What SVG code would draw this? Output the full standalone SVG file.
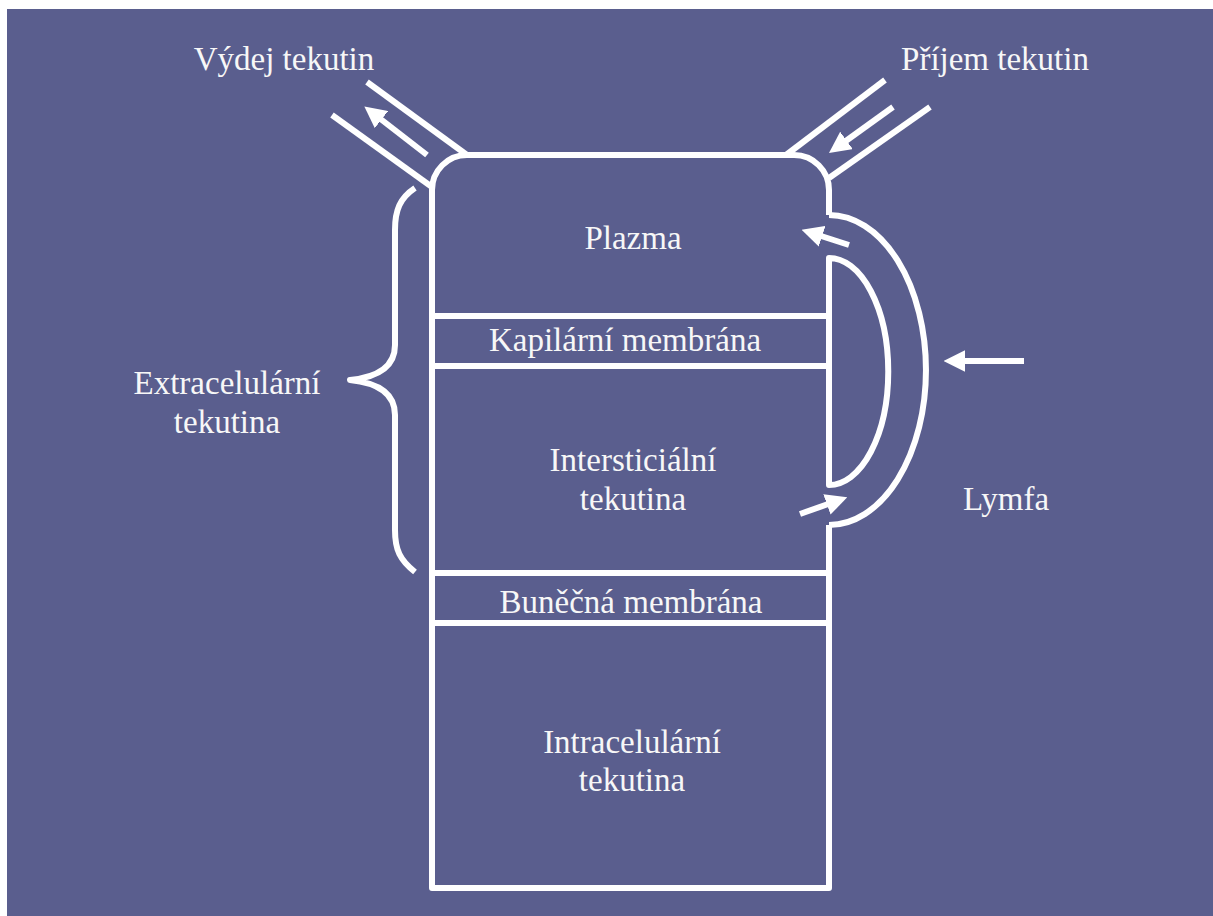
<svg xmlns="http://www.w3.org/2000/svg" width="1213" height="916" viewBox="0 0 1213 916">
<defs>
<style>
.ln{fill:none;stroke:#ffffff;stroke-width:6;stroke-linecap:butt;stroke-linejoin:round}
.ar{fill:none;stroke:#ffffff;stroke-width:6}
.t{font-family:'Liberation Serif','Times New Roman','DejaVu Serif',serif;font-size:33px;fill:#f7f7f7;text-anchor:middle}
</style>
<marker id="ah" viewBox="0 0 10 10" refX="2" refY="5" markerWidth="3.6" markerHeight="3.6" orient="auto" markerUnits="strokeWidth">
<path d="M0,0 L10,5 L0,10 z" fill="#ffffff"/>
</marker>
</defs>
<rect x="0" y="0" width="1213" height="916" fill="#ffffff"/>
<rect x="7" y="9" width="1206" height="907" fill="#5a5e8e"/>

<g id="container">
<path class="ln" d="M829,215 V190 A35,35 0 0 0 794,155 H467 A35,35 0 0 0 432,190 V888 H829 V525"/>
<line class="ln" x1="432" y1="316" x2="829" y2="316"/>
<line class="ln" x1="432" y1="366" x2="829" y2="366"/>
<line class="ln" x1="432" y1="573" x2="829" y2="573"/>
<line class="ln" x1="432" y1="623" x2="829" y2="623"/>
</g>

<g id="plazma"><text class="t" x="633" y="249">Plazma</text></g>
<g id="kapilarni"><text class="t" x="625" y="351">Kapilární membrána</text></g>
<g id="intersticialni"><text class="t" x="633" y="471">Intersticiální</text><text class="t" x="633" y="510">tekutina</text></g>
<g id="bunecna"><text class="t" x="631" y="613">Buněčná membrána</text></g>
<g id="intracelularni"><text class="t" x="632" y="753">Intracelulární</text><text class="t" x="632" y="791">tekutina</text></g>

<g id="vydej">
<line class="ln" x1="367" y1="82" x2="467" y2="155"/>
<line class="ln" x1="332" y1="115" x2="432" y2="187"/>
<text class="t" x="284" y="70">Výdej tekutin</text>
</g>
<g id="prijem">
<line class="ln" x1="885" y1="80" x2="786" y2="155"/>
<line class="ln" x1="930" y1="107" x2="829" y2="178"/>
<text class="t" x="995" y="70">Příjem tekutin</text>
</g>

<g id="lymfa">
<path class="ln" d="M829,215 A97,155 0 0 1 829,525"/>
<path class="ln" d="M829,258 A59,113 0 0 1 829,485 Z"/>
<text class="t" x="1006" y="510">Lymfa</text>
</g>

<g id="extracelularni">
<path class="ln" d="M415,188 C400,198 395,210 395,230 V345 C395,365 380,377 350,380 C380,383 395,395 395,415 V530 C395,550 400,560 415,572"/>
<text class="t" x="227" y="394">Extracelulární</text>
<text class="t" x="227" y="433">tekutina</text>
</g>

<g id="connectors">
<line class="ar" x1="427" y1="155" x2="378" y2="117" marker-end="url(#ah)"/>
<line class="ar" x1="893" y1="107" x2="843" y2="143" marker-end="url(#ah)"/>
<line class="ar" x1="849" y1="245" x2="818" y2="235" marker-end="url(#ah)"/>
<line class="ar" x1="800" y1="514" x2="831" y2="503" marker-end="url(#ah)"/>
<line class="ar" x1="1024" y1="361" x2="961" y2="361" marker-end="url(#ah)"/>
</g>
</svg>
